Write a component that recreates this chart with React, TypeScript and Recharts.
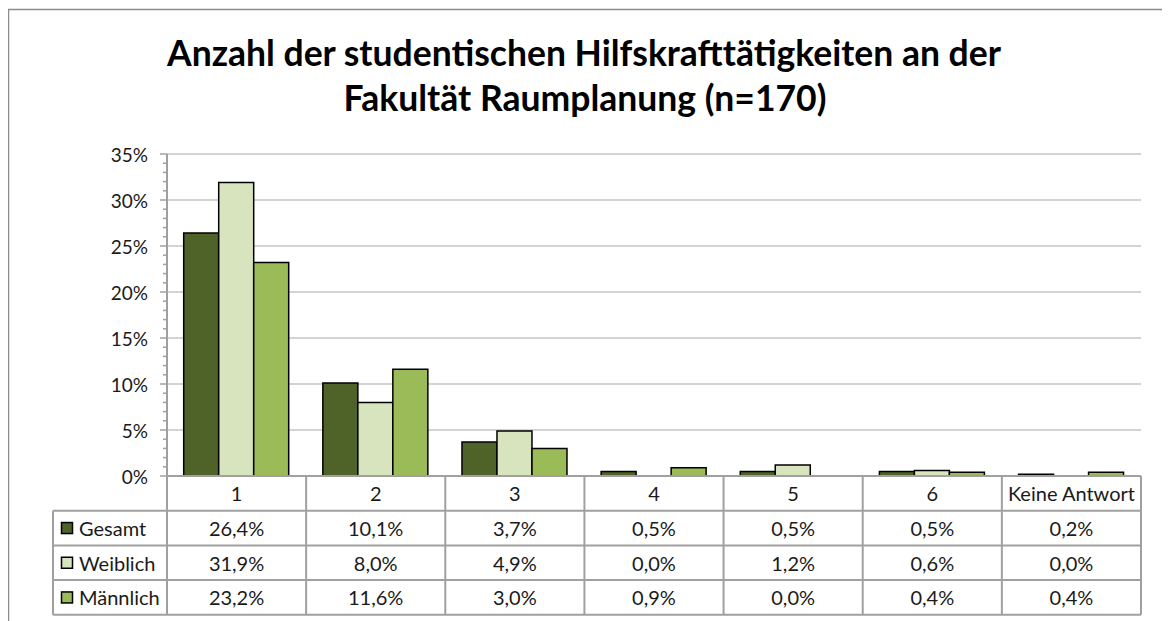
import React from "react";
import { BarChart, Bar, XAxis, YAxis, CartesianGrid } from "recharts";

const categories = ["1", "2", "3", "4", "5", "6", "Keine Antwort"];
const gesamt = [26.4, 10.1, 3.7, 0.5, 0.5, 0.5, 0.2];
const weiblich = [31.9, 8.0, 4.9, 0.0, 1.2, 0.6, 0.0];
const maennlich = [23.2, 11.6, 3.0, 0.9, 0.0, 0.4, 0.4];
const yMajorTicks = [0, 5, 10, 15, 20, 25, 30, 35];
const yAllTicks = Array.from({ length: 36 }, (_, i) => i);

const seriesNames = ["Gesamt", "Weiblich", "Männlich"];
const seriesColors = ["#4f6228", "#d7e4bd", "#9bbb59"];
const seriesValues = [gesamt, weiblich, maennlich];
const seriesKeys = ["gesamt", "weiblich", "maennlich"];

const data = categories.map((c, i) => ({
  cat: c,
  gesamt: gesamt[i],
  weiblich: weiblich[i],
  maennlich: maennlich[i],
}));

const W = 1162;
const H = 613;
const FONT = "Lato, 'Open Sans', sans-serif";
const MARGIN = { top: 146, right: 29, bottom: 111, left: 99 };
const YAXIS_W = 60;
const XAXIS_H = 34;
const PL = MARGIN.left + YAXIS_W;
const PR = W - MARGIN.right;
const PB = H - MARGIN.bottom - XAXIS_H;
const ROW_H = 34.7;
const TABLE_LEFT = 45;
const LINE = "#a0a0a0";
const TXT = 20;

const fmt = (v: number) => v.toFixed(1).replace(".", ",") + "%";

const YTick = (props: any) => {
  const { x, y, payload } = props;
  const v = payload.value;
  const major = v % 5 === 0;
  return (
    <g>
      <line x1={x - (major ? 7 : 4)} x2={x} y1={y} y2={y} stroke={LINE} strokeWidth={1.5} />
      {major && (
        <text x={x - 19} y={y} textAnchor="end" dominantBaseline="central" fontSize={19} fill="#1a1a1a" fontFamily={FONT}>
          {v}%
        </text>
      )}
    </g>
  );
};

const XTick = (props: any) => {
  const { x, y, payload } = props;
  return (
    <text x={x} y={y + XAXIS_H / 2} textAnchor="middle" dominantBaseline="central" fontSize={TXT} fill="#1a1a1a" fontFamily={FONT}>
      {payload.value}
    </text>
  );
};

export default function App() {
  const colW = (PR - PL) / categories.length;
  return (
    <div style={{ position: "relative", width: W, height: H, overflow: "hidden", background: "#fff" }}>
      <BarChart width={W} height={H} data={data} margin={MARGIN} barCategoryGap="12%" barGap={0}>
        <CartesianGrid vertical={false} horizontalValues={yMajorTicks} stroke="#c4c4c4" strokeWidth={1.5} />
        <YAxis
          type="number"
          domain={[0, 35]}
          ticks={yAllTicks}
          interval={0}
          width={YAXIS_W}
          tickSize={0}
          tickMargin={0}
          tickLine={false}
          axisLine={{ stroke: LINE, strokeWidth: 2 }}
          tick={<YTick />}
        />
        <XAxis
          dataKey="cat"
          height={XAXIS_H}
          tickLine={false}
          tickSize={0}
          tickMargin={0}
          interval={0}
          axisLine={{ stroke: LINE, strokeWidth: 2 }}
          tick={<XTick />}
        />
        {seriesKeys.map((k, i) => (
          <Bar key={k} dataKey={k} fill={seriesColors[i]} stroke="#000" strokeWidth={1.5} isAnimationActive={false} />
        ))}
      </BarChart>
      <svg width={W} height={H} style={{ position: "absolute", left: 0, top: 0, pointerEvents: "none" }}>
        <rect x={0.5} y={1.5} width={W + 100} height={H + 100} fill="none" stroke="#8c8c8c" strokeWidth={1.5} />
        <text x={576} y={58} textAnchor="middle" fontSize={35.5} fontWeight="bold" fontFamily={FONT} fill="#000">
          Anzahl der studentischen Hilfskrafttätigkeiten an der
        </text>
        <text x={577} y={103} textAnchor="middle" fontSize={35.5} fontWeight="bold" fontFamily={FONT} fill="#000">
          Fakultät Raumplanung (n=170)
        </text>
        {categories.map((_, i) => (
          <line key={"v" + i} x1={PL + colW * i} x2={PL + colW * i} y1={PB} y2={PB + ROW_H * 4} stroke={LINE} strokeWidth={2} />
        ))}
        <line x1={PR} x2={PR} y1={PB} y2={PB + ROW_H * 4} stroke={LINE} strokeWidth={2} />
        <line x1={TABLE_LEFT} x2={TABLE_LEFT} y1={PB + ROW_H} y2={PB + ROW_H * 4} stroke={LINE} strokeWidth={2} />
        {[1, 2, 3, 4].map((r) => (
          <line key={"h" + r} x1={TABLE_LEFT} x2={PR} y1={PB + ROW_H * r} y2={PB + ROW_H * r} stroke={LINE} strokeWidth={2} />
        ))}
        {seriesNames.map((name, r) => {
          const cy = PB + ROW_H * (r + 1.5);
          return (
            <g key={name}>
              <rect x={53.5} y={cy - 5.5} width={11} height={11} fill={seriesColors[r]} stroke="#000" strokeWidth={1.5} />
              <text x={71} y={cy} dominantBaseline="central" fontSize={TXT} fontFamily={FONT} fill="#1a1a1a">
                {name}
              </text>
              {seriesValues[r].map((v, c) => (
                <text key={c} x={PL + colW * (c + 0.5)} y={cy} textAnchor="middle" dominantBaseline="central" fontSize={TXT} fontFamily={FONT} fill="#1a1a1a">
                  {fmt(v)}
                </text>
              ))}
            </g>
          );
        })}
      </svg>
    </div>
  );
}
